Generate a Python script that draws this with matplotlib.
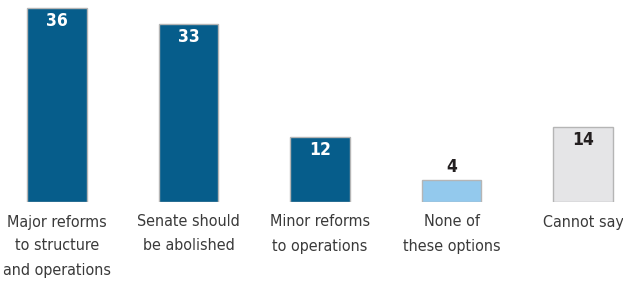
import matplotlib.pyplot as plt

categories = ["Major reforms\nto structure\nand operations", "Senate should\nbe abolished",
              "Minor reforms\nto operations", "None of\nthese options", "Cannot say"]
values = [36, 33, 12, 4, 14]
colors = ["#065d8b", "#065d8b", "#065d8b", "#93c9ed", "#e5e5e7"]
text_colors = ["white", "white", "white", "#231f20", "#231f20"]
inside = [True, True, True, False, True]

plt.rcParams['font.family'] = ['DejaVu Sans']
plt.rcParams['font.stretch'] = 'condensed'

fig = plt.figure(figsize=(6.23, 2.84), dpi=100)
ax = fig.add_axes([0, 82 / 284, 1, 202 / 284])
x = range(len(values))
ax.bar(x, values, width=0.456, color=colors, edgecolor="#b5b5b5", linewidth=1)
ax.set_xlim(-57 / 131.5, (623 - 57) / 131.5)
ax.set_ylim(0, 202 / 5.39)
ax.axis("off")

for i, v in enumerate(values):
    if inside[i]:
        ax.annotate(str(v), (i, v), xytext=(0, -3), textcoords="offset points",
                    ha="center", va="top", fontsize=12.5, fontweight="bold", color=text_colors[i])
    else:
        ax.annotate(str(v), (i, v), xytext=(0, 3), textcoords="offset points",
                    ha="center", va="bottom", fontsize=12.5, fontweight="bold", color=text_colors[i])
    ax.annotate(categories[i], (i, 0), xytext=(0, -9), textcoords="offset points",
                ha="center", va="top", fontsize=11.5, color="#3a3a3a", linespacing=1.75)

fig.savefig("out.png", dpi=100)
